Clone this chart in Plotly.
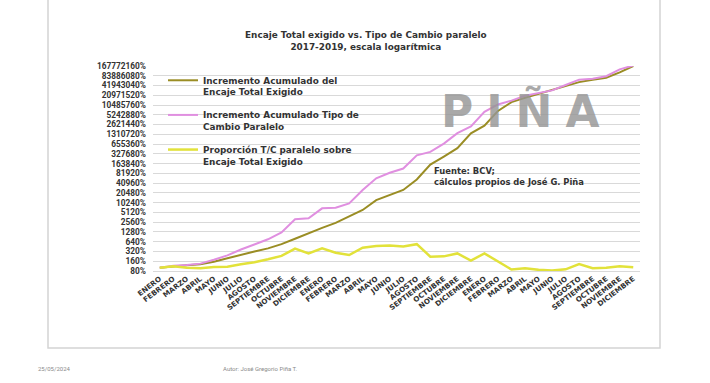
import math
import plotly.graph_objects as go

meses = ["ENERO", "FEBRERO", "MARZO", "ABRIL", "MAYO", "JUNIO", "JULIO", "AGOSTO",
         "SEPTIEMBRE", "OCTUBRE", "NOVIEMBRE", "DICIEMBRE"]
etiquetas_x = meses * 3  # 2017, 2018, 2019

# Incremento acumulado del Encaje Total Exigido (%)
encaje = [100, 112, 121, 130, 155, 197, 256, 320, 399, 538, 788, 1194,
          1713, 2439, 3880, 6089, 12262, 17829, 25213, 53301, 152871, 269877,
          489826, 1404830, 2412250, 6918000, 12909000, 17635000, 23270000,
          30705000, 41943040, 53461000, 63573000, 73027000, 106921000, 167772160]

# Incremento acumulado Tipo de Cambio Paralelo (%)
tipo_cambio = [100, 116, 123, 135, 178, 243, 368, 538, 761, 1236, 3152, 3378,
               6850, 7141, 9755, 25039, 57526, 85402, 115852, 295322, 376408,
               678496, 1424400, 2282100, 6454500, 10931400, 14323500, 20257500,
               24090000, 29658000, 43424000, 63573000, 68137000, 81030000,
               132548000, 173694000]

# Proporción T/C paralelo sobre Encaje Total Exigido (%)
proporcion = [100, 112, 101, 98, 106, 109, 130, 149, 184, 234, 394, 281,
              399, 292, 249, 419, 469, 485, 453, 538, 222, 226, 279, 167,
              279, 156, 89, 97, 87, 83, 90, 130, 98, 101, 112, 104]

y_ticks = [80, 160, 320, 640, 1280, 2560, 5120, 10240, 20480, 40960, 81920,
           163840, 327680, 655360, 1310720, 2621440, 5242880, 10485760,
           20971520, 41943040, 83886080, 167772160]
y_ticktext = [f"{v}%" for v in y_ticks]

x = list(range(len(etiquetas_x)))

FONT = "Roboto"
WIDE = "DejaVu Sans"
DARK = "#333333"

fig = go.Figure()
fig.add_trace(go.Scatter(
    x=x, y=encaje, mode="lines", line=dict(color="#9A8D24", width=2),
    name="Incremento Acumulado del<br>Encaje Total Exigido", legendgroup="a"))
fig.add_trace(go.Scatter(
    x=x, y=tipo_cambio, mode="lines", line=dict(color="#E08FE0", width=2),
    name="Incremento Acumulado Tipo de<br>Cambio Paralelo", legendgroup="b"))
fig.add_trace(go.Scatter(
    x=x, y=proporcion, mode="lines", line=dict(color="#E2E23A", width=2.5),
    name="Proporción T/C paralelo sobre<br>Encaje Total Exigido", legendgroup="c"))

L, R, T, B = 153, 70, 66, 112
PW, PH = 710 - L - R, 383 - T - B


def px(xp):
    return (xp - L) / PW


def py(yp):
    return (383 - B - yp) / PH


fig.update_layout(
    width=710, height=383,
    margin=dict(l=L, r=R, t=T, b=B, autoexpand=False),
    paper_bgcolor="white", plot_bgcolor="white",
    font=dict(family=FONT, color=DARK),
    showlegend=True,
    legend=dict(
        x=px(163), y=py(68), xanchor="left", yanchor="top",
        bgcolor="rgba(0,0,0,0)", valign="top", tracegroupgap=8.5,
        font=dict(family=WIDE, size=8.9, color=DARK, weight="bold"),
        itemwidth=30,
    ),
    xaxis=dict(
        range=[-0.5, len(x) - 0.5], tickmode="array", tickvals=x,
        ticktext=etiquetas_x, tickangle=-37, showgrid=False,
        showline=True, linecolor="#d9d9d9", linewidth=1, ticks="",
        tickfont=dict(family=WIDE, size=7.2, color=DARK, weight="bold"),
        zeroline=False,
    ),
    yaxis=dict(
        type="log", range=[math.log10(y_ticks[0]), math.log10(y_ticks[-1])],
        tickmode="array", tickvals=y_ticks, ticktext=y_ticktext,
        showgrid=True, gridcolor="#d9d9d9", gridwidth=1, showline=False,
        ticks="", ticklabelstandoff=6,
        tickfont=dict(family=FONT, size=8.3, color=DARK, weight="bold"),
        zeroline=False,
    ),
)

annotations = [
    dict(text="Encaje Total exigido vs. Tipo de Cambio paralelo<br>2017-2019, escala logarítmica",
         x=px(366), y=py(41), xanchor="center", yanchor="middle",
         font=dict(family=WIDE, size=8.9, color=DARK, weight="bold"),
         align="center"),
    dict(text="PIÑA", x=px(527), y=py(111), xanchor="center", yanchor="middle",
         font=dict(family="DejaVu Sans", size=44, color="rgba(150,150,150,0.82)",
                   weight="bold")),
    dict(text="Fuente: BCV;<br>cálculos propios de José G. Piña",
         x=px(432), y=py(176), xanchor="left", yanchor="middle", align="left",
         font=dict(family=WIDE, size=8.4, color=DARK, weight="bold")),
    dict(text="25/05/2024", x=px(36), y=py(368), xanchor="left", yanchor="middle",
         font=dict(family=FONT, size=6, color="#8a8a8a")),
    dict(text="Autor: José Gregorio Piña T.", x=px(260), y=py(368),
         xanchor="center", yanchor="middle",
         font=dict(family=FONT, size=6, color="#8a8a8a")),
]
for a in annotations:
    a.update(xref="paper", yref="paper", showarrow=False)
fig.update_layout(annotations=annotations)

fig.add_shape(type="rect", xref="paper", yref="paper",
              x0=px(48), x1=px(660), y0=py(348), y1=py(-3),
              line=dict(color="#d4d4d4", width=1.5), fillcolor="rgba(0,0,0,0)",
              layer="above")

post = """
document.body.style.margin='0';document.body.style.padding='0';
document.querySelectorAll('text.annotation-text').forEach(function(t){
  if (t.textContent === 'PIÑA') { t.style.letterSpacing = '13px'; }
});
"""
fig.write_html("out.html", post_script=post, config={"displayModeBar": False})
